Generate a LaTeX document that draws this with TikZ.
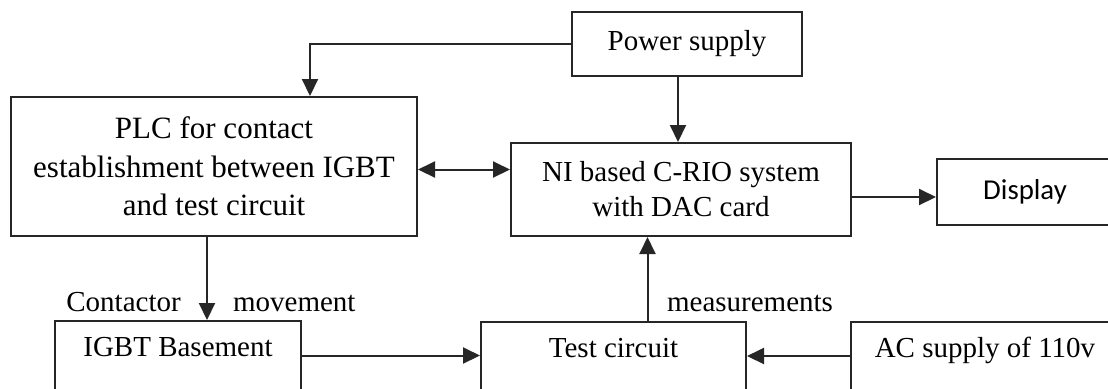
\documentclass[tikz,border=0pt]{standalone}
\usepackage{fontspec}
\setmainfont{Liberation Serif}
\newfontfamily\dispfont{Carlito}
\usetikzlibrary{arrows.meta,calc}
\begin{document}
\begin{tikzpicture}[x=0.5pt,y=-0.5pt,
  box/.style={draw=black!85, line width=1pt, inner sep=0pt, align=center,
    font=\fontsize{14.5pt}{17.5pt}\selectfont},
  lowbox/.style={box, anchor=north, text height=17.5pt, text depth=50pt},
  arr/.style={draw=black!85, line width=1pt, -{Triangle[length=8.5pt,width=8pt]}},
  dblarr/.style={draw=black!85, line width=1pt, {Triangle[length=8.5pt,width=8pt]}-{Triangle[length=8.5pt,width=8pt]}},
  lbl/.style={anchor=base west, inner sep=0pt, font=\fontsize{14.5pt}{17.5pt}\selectfont}]
\useasboundingbox (0,0) rectangle (1108,388);

\node[box, minimum width=115pt, minimum height=32pt] (ps) at (687,44) {Power supply};
\node[box, minimum width=203pt, minimum height=69.5pt,
  font=\fontsize{15.5pt}{19.25pt}\selectfont] (plc) at (214,166.5)
  {PLC for contact\\establishment between IGBT\\and test circuit};
\node[box, minimum width=170pt, minimum height=46.5pt] (ni) at (681,189.5)
  {NI based C-RIO system\\with DAC card};
\node[box, minimum width=88pt, minimum height=33pt,
  font=\dispfont\fontsize{14.4pt}{17pt}\selectfont] (disp) at (1025,192) {Display};

\node[lowbox, minimum width=123pt] (igbt) at (178,320) {IGBT Basement};
\node[lowbox, minimum width=132.5pt] (test) at (613.5,321) {Test circuit};
\node[lowbox, minimum width=134pt] (ac) at (985,321) {AC supply of 110v};

\node[lbl] (lc) at (66,311.7) {Contactor};
\node[lbl] (lm) at (232.7,311.7) {movement};
\node[lbl] (lme) at (666.7,311.7) {measurements};

% connectors
\draw[arr] (ps.west) -| ([xshift=48pt]plc.north);
\draw[arr] ([xshift=-4.5pt]ps.south) -- ([xshift=-4.5pt]ps.south |- ni.north);
\draw[dblarr] ([yshift=-1.5pt]plc.east) -- ([yshift=-1.5pt]plc.east -| ni.west);
\draw[arr] ([yshift=-2.5pt]disp.west -| ni.east) -- ([yshift=-2.5pt]disp.west);
\draw[arr] ([xshift=-3.5pt]plc.south) -- ([xshift=-3.5pt]plc.south |- igbt.north);
\draw[arr] ([yshift=-17.75pt]igbt.north east) -- ([yshift=-17.75pt]igbt.north east -| test.west);
\draw[arr] ([xshift=17pt]test.north) -- ([xshift=17pt]test.north |- ni.south);
\draw[arr] ([yshift=-17.5pt]ac.north west) -- ([yshift=-17.5pt]ac.north west -| test.east);
\end{tikzpicture}
\end{document}
